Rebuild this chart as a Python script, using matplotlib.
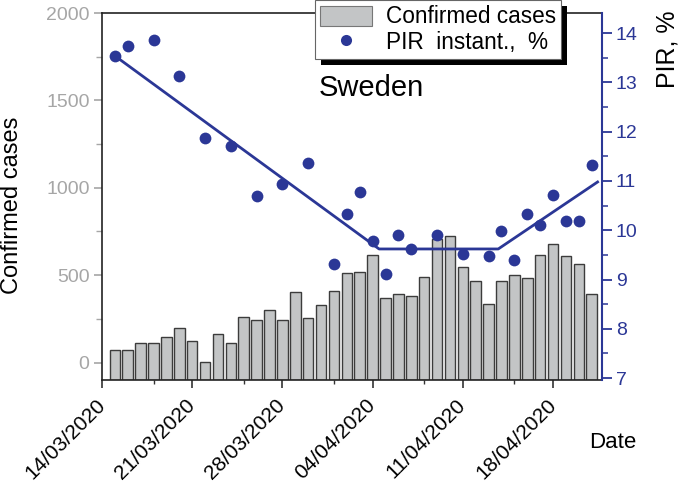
import matplotlib
matplotlib.use("Agg")
import matplotlib.pyplot as plt
import matplotlib.dates as mdates
from matplotlib.patches import Rectangle
from matplotlib.lines import Line2D
from matplotlib.ticker import MultipleLocator, FixedLocator
import pandas as pd
import numpy as np

plt.rcParams['font.family'] = ['Liberation Sans', 'DejaVu Sans']

# ---------------- data ----------------
bar_dates = pd.date_range('2020-03-15', '2020-04-21', freq='D')
confirmed = [69, 69, 111, 112, 145, 200, 122, 5, 162, 113,
             260, 241, 298, 241, 403, 256, 328, 409, 514, 518,
             613, 367, 390, 378, 489, 709, 724, 544, 466, 334,
             468, 500, 485, 617, 676, 611, 565, 394]

pir_dates = ['15/03/2020', '16/03/2020', '18/03/2020', '20/03/2020', '22/03/2020',
             '24/03/2020', '26/03/2020', '28/03/2020', '30/03/2020', '01/04/2020',
             '02/04/2020', '03/04/2020', '04/04/2020', '05/04/2020', '06/04/2020',
             '07/04/2020', '09/04/2020', '11/04/2020', '13/04/2020', '14/04/2020',
             '15/04/2020', '16/04/2020', '17/04/2020', '18/04/2020', '19/04/2020',
             '20/04/2020', '21/04/2020']
pir_values = [13.54, 13.74, 13.86, 13.14, 11.88, 11.72, 10.70, 10.94, 11.36, 9.32,
              10.33, 10.77, 9.79, 9.11, 9.91, 9.62, 9.91, 9.52, 9.48, 9.99,
              9.40, 10.33, 10.11, 10.72, 10.18, 10.18, 11.33]

fit_dates = ['2020-03-15 00:00', '2020-04-04 12:00', '2020-04-13 18:00', '2020-04-21 11:00']
fit_values = [13.54, 9.62, 9.62, 10.98]

tick_labels = ['14/03/2020', '21/03/2020', '28/03/2020', '04/04/2020', '11/04/2020', '18/04/2020']

# ---------------- style ----------------
BLUE = '#2b3796'
GREY_TXT = '#a6a6a6'
BAR_FACE = '#c3c5c6'
BAR_EDGE = '#3c3c3c'

W, H = 685, 484
fig = plt.figure(figsize=(W / 100, H / 100), dpi=100)
ax = fig.add_axes([102 / W, 1 - 380 / H, 500 / W, 367 / H])
ax2 = ax.twinx()

tick_dates = pd.to_datetime(tick_labels, format='%d/%m/%Y')
x0 = mdates.date2num(tick_dates[0])
xlim = (x0, x0 + 38.8)
ymin_left = -100

# bars (drawn from axis bottom as in original)
bx = mdates.date2num(bar_dates)
ax.bar(bx, np.array(confirmed) - ymin_left, bottom=ymin_left, width=0.82,
       color=BAR_FACE, edgecolor=BAR_EDGE, linewidth=1.0, zorder=2)
ax.set_ylim(ymin_left, 2000)
ax.set_xlim(*xlim)

# PIR
px = mdates.date2num(pd.to_datetime(pir_dates, format='%d/%m/%Y'))
ax2.plot(mdates.date2num(pd.to_datetime(fit_dates)), fit_values, color=BLUE, lw=2.0, zorder=3)
ax2.scatter(px, pir_values, s=72, color=BLUE, zorder=4, linewidths=0)
ax2.set_ylim(6.96, 14.41)
ax2.set_xlim(*xlim)

# x axis ticks
major = mdates.date2num(tick_dates)
ax.xaxis.set_major_locator(FixedLocator(major))
ax.xaxis.set_minor_locator(FixedLocator(major + 4))
ax.set_xticklabels(tick_labels)
ax.tick_params(axis='x', which='major', direction='out', length=6, width=1.2, color='#333333',
               labelsize=15, pad=10)
ax.tick_params(axis='x', which='minor', direction='out', length=3, width=1.0, color='#333333')
for lab in ax.get_xticklabels():
    lab.set_rotation(45)
    lab.set_ha('right')
    lab.set_va('center')
    lab.set_rotation_mode('anchor')

# left axis
ax.yaxis.set_major_locator(MultipleLocator(500))
ax.yaxis.set_minor_locator(MultipleLocator(250))
ax.tick_params(axis='y', which='major', direction='out', length=6, width=1.2,
               color=GREY_TXT, labelcolor=GREY_TXT, labelsize=14, pad=3)
ax.tick_params(axis='y', which='minor', direction='out', length=4, width=1.0, color=GREY_TXT)

# right axis
ax2.yaxis.set_major_locator(MultipleLocator(1))
ax2.yaxis.set_minor_locator(MultipleLocator(0.5))
ax2.tick_params(axis='y', which='major', direction='out', length=7, width=1.3,
                color=BLUE, labelcolor=BLUE, labelsize=14, pad=3)
ax2.tick_params(axis='y', which='minor', direction='out', length=4, width=1.1, color=BLUE)

for sp in ['left', 'top', 'bottom']:
    ax.spines[sp].set_color('#222222')
    ax.spines[sp].set_linewidth(1.2)
ax.spines['right'].set_visible(False)
for sp in ['left', 'top', 'bottom']:
    ax2.spines[sp].set_visible(False)
ax2.spines['right'].set_color(BLUE)
ax2.spines['right'].set_linewidth(1.5)

# texts
fig.text(12 / W, 1 - 205 / H, 'Confirmed cases', rotation=90, ha='center', va='center', fontsize=17)
fig.text(668 / W, 1 - 49 / H, 'PIR, %', rotation=90, ha='center', va='center', fontsize=18)
fig.text(613 / W, 1 - 443 / H, 'Date', ha='center', va='center', fontsize=16)
fig.text(371 / W, 1 - 88 / H, 'Sweden', ha='center', va='center', fontsize=21)

# legend
handles = [Rectangle((0, 0), 1, 1, facecolor=BAR_FACE, edgecolor='#777777', linewidth=0.8),
           Line2D([], [], ls='none', marker='o', markersize=8, color=BLUE, markeredgewidth=0)]
leg = fig.legend(handles, ['Confirmed cases', 'PIR  instant.,  %'],
                 loc='upper left', bbox_to_anchor=(315 / W, 0.999), borderaxespad=0,
                 fontsize=16.3, frameon=True, fancybox=False, framealpha=1,
                 edgecolor='#666666', handlelength=2.3, handleheight=1.0,
                 handletextpad=0.6, borderpad=0.22, labelspacing=0.1)
leg.get_frame().set_linewidth(0.8)
leg.set_zorder(10)

fig.canvas.draw()
bb = leg.get_frame().get_window_extent(fig.canvas.get_renderer())
off = 6
shadow = Rectangle(((bb.x0 + off) / W, (bb.y0 - off) / H), bb.width / W, bb.height / H,
                   transform=fig.transFigure, facecolor='black', edgecolor='none', zorder=9)
fig.add_artist(shadow)

fig.savefig('out.png', dpi=100)
